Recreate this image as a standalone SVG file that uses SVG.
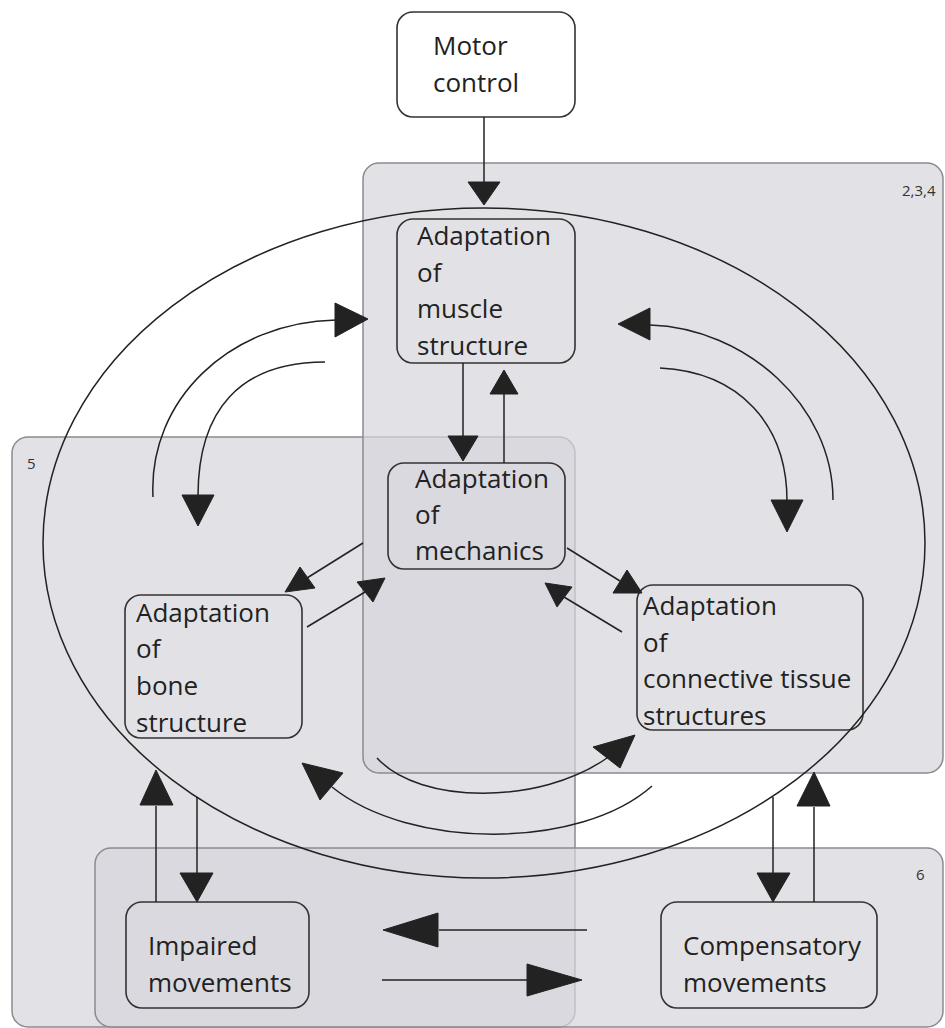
<svg xmlns="http://www.w3.org/2000/svg" width="945" height="1028" viewBox="0 0 945 1028">
<style>
.zone{fill:#d6d6dc;fill-opacity:0.7;stroke:#8a8a90;stroke-width:1.5}
.node{fill:none;stroke:#333;stroke-width:1.6}
.t{font-family:"Open Sans","Liberation Sans",sans-serif;font-size:26px;fill:#222}
.s{font-family:"Open Sans","Liberation Sans",sans-serif;font-size:15px;fill:#333}
.ln{fill:none;stroke:#222;stroke-width:1.5}
.ah{fill:#222;stroke:#222;stroke-width:1;stroke-linejoin:round}
</style>
<rect width="945" height="1028" fill="#ffffff"/>
<g id="zone-5"><rect class="zone" x="12" y="437" width="563" height="590" rx="16"/><text class="s" x="27" y="469">5</text></g>
<g id="zone-234"><rect class="zone" x="363" y="163" width="580" height="610" rx="16"/><text class="s" x="902" y="196">2,3,4</text></g>
<g id="zone-6"><rect class="zone" x="95" y="848" width="848" height="179" rx="16"/><text class="s" x="916" y="880">6</text></g>

<g id="motor-control"><rect class="node" x="397" y="12" width="178" height="105" rx="16"/><text class="t" x="433" y="55">Motor</text><text class="t" x="433" y="92">control</text></g>
<g id="muscle"><rect class="node" x="397" y="219" width="178" height="144" rx="16"/><text class="t" x="417" y="245">Adaptation</text><text class="t" x="417" y="282">of</text><text class="t" x="417" y="318">muscle</text><text class="t" x="417" y="355">structure</text></g>
<g id="mechanics"><rect class="node" x="388" y="463" width="177" height="106" rx="16"/><text class="t" x="415" y="488">Adaptation</text><text class="t" x="415" y="524">of</text><text class="t" x="415" y="560">mechanics</text></g>
<g id="bone"><rect class="node" x="125" y="595" width="177" height="143" rx="16"/><text class="t" x="136" y="622">Adaptation</text><text class="t" x="136" y="658">of</text><text class="t" x="136" y="695">bone</text><text class="t" x="136" y="732">structure</text></g>
<g id="connective"><rect class="node" x="637" y="585" width="226" height="145" rx="16"/><text class="t" x="643" y="615">Adaptation</text><text class="t" x="643" y="652">of</text><text class="t" x="643" y="688">connective tissue</text><text class="t" x="643" y="725">structures</text></g>
<g id="impaired"><rect class="node" x="126" y="902" width="183" height="106" rx="16"/><text class="t" x="148" y="955">Impaired</text><text class="t" x="148" y="992">movements</text></g>
<g id="compensatory"><rect class="node" x="661" y="902" width="216" height="106" rx="16"/><text class="t" x="683" y="955">Compensatory</text><text class="t" x="683" y="992">movements</text></g>

<g id="connectors">
<ellipse class="ln" cx="484" cy="543" rx="441" ry="335"/>
<line class="ln" x1="484" y1="117" x2="484" y2="183"/><polygon class="ah" points="468,182 500,182 484,205"/>
<line class="ln" x1="463" y1="363" x2="463" y2="437"/><polygon class="ah" points="448,436 478,436 463,461"/>
<line class="ln" x1="504" y1="463" x2="504" y2="393"/><polygon class="ah" points="490,394 518,394 504,370"/>
<line class="ln" x1="567" y1="548" x2="620" y2="581"/><polygon class="ah" points="627,570 613,593 642,593"/>
<line class="ln" x1="622" y1="632" x2="564" y2="597"/><polygon class="ah" points="572,587 557,607 545,583"/>
<line class="ln" x1="363" y1="543" x2="307" y2="578"/><polygon class="ah" points="300,567 315,588 285,592"/>
<line class="ln" x1="307" y1="627" x2="365" y2="592"/><polygon class="ah" points="357,582 373,602 385,578"/>
<path class="ln" d="M153,497 C148,400 230,322 336,320"/><polygon class="ah" points="335,303 335,337 368,319"/>
<path class="ln" d="M325,362 C240,362 198,410 198,496"/><polygon class="ah" points="182,495 214,495 198,526"/>
<path class="ln" d="M833,500 C833,405 745,328 650,325"/><polygon class="ah" points="650,308 650,340 618,324"/>
<path class="ln" d="M660,368 C740,372 787,425 787,501"/><polygon class="ah" points="771,500 803,500 787,532"/>
<path class="ln" d="M377,758 C420,805 540,805 607,758"/><polygon class="ah" points="593,747 620,768 635,735"/>
<path class="ln" d="M652,786 C580,850 410,850 332,787"/><polygon class="ah" points="343,773 320,800 302,763"/>
<line class="ln" x1="156" y1="902" x2="156" y2="806"/><polygon class="ah" points="140,805 173,805 156,770"/>
<line class="ln" x1="197" y1="797" x2="197" y2="874"/><polygon class="ah" points="180,873 213,873 197,902"/>
<line class="ln" x1="773" y1="797" x2="773" y2="874"/><polygon class="ah" points="757,873 790,873 773,902"/>
<line class="ln" x1="814" y1="902" x2="814" y2="807"/><polygon class="ah" points="797,806 830,806 814,772"/>
<line class="ln" x1="587" y1="930" x2="439" y2="930"/><polygon class="ah" points="438,913 438,947 383,930"/>
<line class="ln" x1="382" y1="980" x2="528" y2="980"/><polygon class="ah" points="527,964 527,996 582,980"/>
</g>
</svg>
